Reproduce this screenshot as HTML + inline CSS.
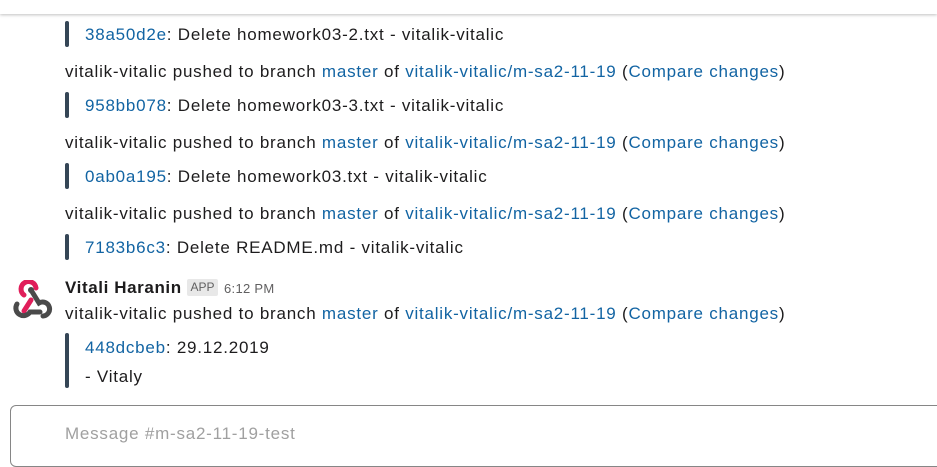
<!DOCTYPE html>
<html><head><style>
body{margin:0;width:937px;height:431px;overflow:hidden;background:#fff;font-family:"Liberation Sans",sans-serif;font-size:17px;letter-spacing:0.77px;color:#1d1c1d;position:relative}
.t{position:absolute;white-space:nowrap;line-height:20px}
a{color:#1264a3;text-decoration:none}
.bar{position:absolute;left:65px;width:4px;background:#354656;border-radius:2px}
</style></head><body>
<div style="position:absolute;left:0;top:0;width:937px;height:14px;background:#fff;box-shadow:0 1px 3px rgba(0,0,0,.25)"></div>
<div class="bar" style="top:21px;height:26px"></div>
<div class="t" style="left:85px;top:25px"><a>38a50d2e</a>: Delete homework03-2.txt - vitalik-vitalic</div>
<div class="t" style="left:65px;top:62px">vitalik-vitalic pushed to branch <a>master</a> of <a>vitalik-vitalic/m-sa2-11-19</a> (<a>Compare changes</a>)</div>
<div class="bar" style="top:92px;height:26px"></div>
<div class="t" style="left:85px;top:96px"><a>958bb078</a>: Delete homework03-3.txt - vitalik-vitalic</div>
<div class="t" style="left:65px;top:133px">vitalik-vitalic pushed to branch <a>master</a> of <a>vitalik-vitalic/m-sa2-11-19</a> (<a>Compare changes</a>)</div>
<div class="bar" style="top:163px;height:26px"></div>
<div class="t" style="left:85px;top:167px"><a>0ab0a195</a>: Delete homework03.txt - vitalik-vitalic</div>
<div class="t" style="left:65px;top:204px">vitalik-vitalic pushed to branch <a>master</a> of <a>vitalik-vitalic/m-sa2-11-19</a> (<a>Compare changes</a>)</div>
<div class="bar" style="top:234px;height:26px"></div>
<div class="t" style="left:85px;top:238px"><a>7183b6c3</a>: Delete README.md - vitalik-vitalic</div>
<svg style="position:absolute;left:9px;top:280px" width="44" height="40" viewBox="0 0 44 40">
<g fill="none" stroke-width="5" stroke-linecap="round">
<path d="M22 20 L15 31" stroke="#e01e5a"/>
<path d="M15 15 A7.5 7.5 0 1 1 27 8" stroke="#e01e5a"/>
<path d="M8 24 A7 7 0 1 0 21 32 L31 32" stroke="#4a4a4a"/>
<path d="M22 10 L30 23 A7 7 0 1 1 34 36" stroke="#4a4a4a"/>
</g>
<circle cx="22" cy="10" r="3" fill="#4a4a4a"/>
</svg>
<div class="t" style="left:65px;top:278px;font-weight:bold;font-size:17px;letter-spacing:0.6px">Vitali Haranin</div>
<div style="position:absolute;left:187px;top:279px;width:31px;height:17px;background:#e8e8e8;border-radius:2px;color:#616061;font-size:12px;letter-spacing:0;line-height:17px;text-align:center">APP</div>
<div class="t" style="left:224px;top:279px;font-size:13px;letter-spacing:0.3px;color:#616061">6:12 PM</div>
<div class="t" style="left:65px;top:304px">vitalik-vitalic pushed to branch <a>master</a> of <a>vitalik-vitalic/m-sa2-11-19</a> (<a>Compare changes</a>)</div>
<div class="bar" style="top:333px;height:55px"></div>
<div class="t" style="left:85px;top:338px"><a>448dcbeb</a>: 29.12.2019</div>
<div class="t" style="left:85px;top:367px">- Vitaly</div>
<div style="position:absolute;left:10px;top:405px;width:940px;height:60px;border:1px solid #868686;border-radius:6px"></div>
<div class="t" style="left:65px;top:424px;color:#a0a0a0">Message #m-sa2-11-19-test</div>
</body></html>
